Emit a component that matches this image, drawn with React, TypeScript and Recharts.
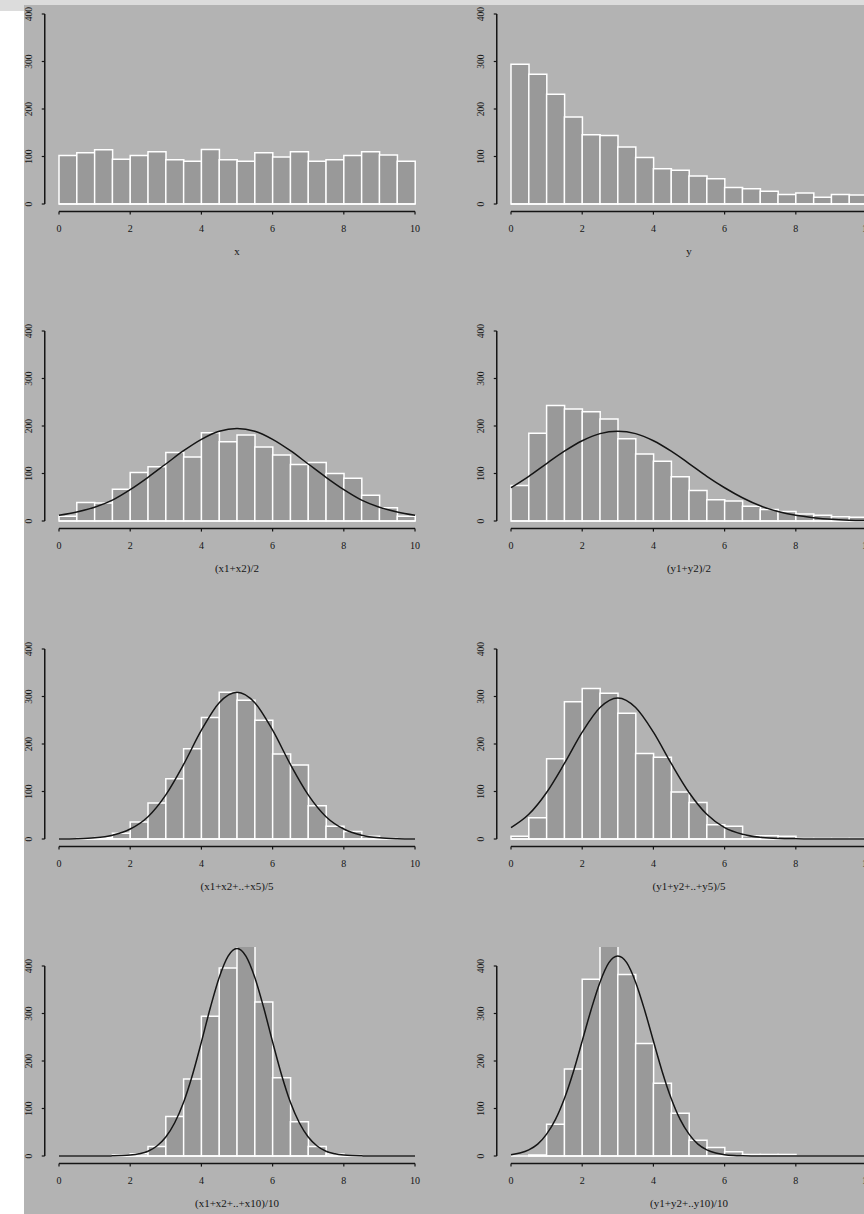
import React from 'react';
import { ComposedChart, Bar, Line, XAxis, YAxis, ReferenceLine } from 'recharts';

// histogram bins (left edges, width 0.5)
const BIN_START = [0, 0.5, 1, 1.5, 2, 2.5, 3, 3.5, 4, 4.5, 5, 5.5, 6, 6.5, 7, 7.5, 8, 8.5, 9, 9.5];

// x positions where the fitted curve was read
const CURVE_X_HALF = [0, 0.5, 1, 1.5, 2, 2.5, 3, 3.5, 4, 4.5, 5, 5.5, 6, 6.5, 7, 7.5, 8, 8.5, 9, 9.5, 10];
const CURVE_X_QUARTER = [
  0, 0.25, 0.5, 0.75, 1, 1.25, 1.5, 1.75, 2, 2.25, 2.5, 2.75, 3, 3.25, 3.5, 3.75, 4, 4.25, 4.5, 4.75,
  5, 5.25, 5.5, 5.75, 6, 6.25, 6.5, 6.75, 7, 7.25, 7.5, 7.75, 8, 8.25, 8.5, 8.75, 9, 9.25, 9.5, 9.75, 10,
];

// counts per bin
const COUNT_X1 = [102, 108, 114, 94, 102, 110, 93, 90, 115, 93, 90, 108, 99, 110, 90, 93, 102, 110, 103, 90];
const COUNT_Y1 = [294, 273, 231, 183, 146, 144, 120, 98, 74, 71, 59, 53, 35, 32, 27, 20, 23, 14, 20, 19];
const COUNT_X2 = [10, 39, 38, 67, 102, 114, 144, 135, 186, 167, 181, 156, 139, 119, 123, 100, 90, 54, 28, 10];
const COUNT_Y2 = [75, 185, 243, 236, 230, 215, 173, 141, 126, 93, 64, 45, 42, 31, 24, 20, 15, 12, 9, 8];
const COUNT_X5 = [0, 1, 3, 12, 36, 76, 127, 190, 256, 309, 292, 250, 179, 156, 70, 27, 16, 6, 1, 0];
const COUNT_Y5 = [6, 45, 169, 289, 317, 307, 265, 180, 172, 99, 77, 30, 27, 7, 7, 6, 1, 1, 1, 1];
const COUNT_X10 = [0, 0, 0, 2, 5, 20, 83, 162, 294, 396, 452, 324, 165, 72, 20, 4, 1, 0, 0, 0];
const COUNT_Y10 = [0, 2, 67, 183, 372, 444, 382, 237, 153, 90, 33, 18, 9, 3, 3, 3, 0, 0, 0, 0];

// fitted curves
const CURVE_X2 = [12, 19, 29, 44, 66, 92, 120, 148, 172, 189, 195, 189, 172, 148, 120, 92, 66, 44, 29, 19, 12];
const CURVE_Y2 = [70, 94, 121, 147, 169, 184, 189, 184, 169, 147, 121, 94, 70, 49, 32, 20, 12, 7, 3.5, 1.7, 0.8];
const CURVE_X5 = [0.2, 0.7, 2.5, 8, 21, 47, 93, 157, 229, 287, 309, 287, 229, 157, 93, 47, 21, 8, 2.5, 0.7, 0.2];
const CURVE_Y5 = [24, 52, 98, 159, 225, 277, 297, 277, 225, 159, 98, 52, 24, 10, 3.5, 1, 0.3, 0.1, 0, 0, 0];
const CURVE_X10 = [
  0, 0, 0, 0, 0, 0, 0.3, 0.8, 2, 4.7, 10, 21, 40, 70, 113, 171, 240, 312, 376, 421,
  437, 421, 376, 312, 240, 171, 113, 70, 40, 21, 10, 4.7, 2, 0.8, 0.3, 0, 0, 0, 0, 0, 0,
];
const CURVE_Y10 = [
  2.8, 6.3, 13, 25, 46, 77, 121, 177, 242, 308, 366, 407, 421, 407, 366, 308, 242, 177, 121, 77,
  46, 25, 13, 6.3, 2.8, 1.1, 0.4, 0.1, 0, 0, 0, 0, 0, 0, 0, 0, 0, 0, 0, 0, 0,
];

const X_TICKS = [0, 2, 4, 6, 8, 10];
const Y_TICKS = [0, 100, 200, 300, 400];

type Panel = { title: string; counts: number[]; curveX?: number[]; curve?: number[] };

const ROWS: Panel[][] = [
  [
    { title: 'x', counts: COUNT_X1 },
    { title: 'y', counts: COUNT_Y1 },
  ],
  [
    { title: '(x1+x2)/2', counts: COUNT_X2, curveX: CURVE_X_HALF, curve: CURVE_X2 },
    { title: '(y1+y2)/2', counts: COUNT_Y2, curveX: CURVE_X_HALF, curve: CURVE_Y2 },
  ],
  [
    { title: '(x1+x2+..+x5)/5', counts: COUNT_X5, curveX: CURVE_X_HALF, curve: CURVE_X5 },
    { title: '(y1+y2+..+y5)/5', counts: COUNT_Y5, curveX: CURVE_X_HALF, curve: CURVE_Y5 },
  ],
  [
    { title: '(x1+x2+..+x10)/10', counts: COUNT_X10, curveX: CURVE_X_QUARTER, curve: CURVE_X10 },
    { title: '(y1+y2+..y10)/10', counts: COUNT_Y10, curveX: CURVE_X_QUARTER, curve: CURVE_Y10 },
  ],
];

// layout (R-like: axes sit 4% outside the data range)
const SERIF = '"Liberation Serif", "DejaVu Serif", serif';
const CHART_W = 452;
const CHART_H = 260;
const COL_LEFT = [24, 476];
const ROW_BASE = [204, 521.3, 838.7, 1156];
const Y_AXIS_W = 20.76;
const PLOT_W = 384.5;
const PLOT_H = 216.6;
const TOP_M = 4;
const X_AXIS_H = 30;
const BIN_PAD = 14.24;
const ZERO_FROM_TOP = 209; // px from plot top to y=0

const BG = '#b3b3b3';
const BAR = '#999999';
const INK = '#151515';

function YTick(props: any) {
  const { x, y, payload } = props;
  return (
    <text
      transform={`translate(${x - 8},${y}) rotate(-90)`}
      textAnchor="middle"
      fontSize={9.5}
      fontFamily={SERIF}
      fill={INK}
    >
      {payload.value}
    </text>
  );
}

function Histogram({ panel }: { panel: Panel }) {
  const binData = BIN_START.map((b, i) => ({ bin: b, count: panel.counts[i] }));
  const curveData = panel.curve ? panel.curveX!.map((x, i) => ({ x, d: panel.curve![i] })) : null;
  return (
    <ComposedChart
      width={CHART_W}
      height={CHART_H}
      data={binData}
      barCategoryGap={0}
      barGap={0}
      margin={{
        top: TOP_M,
        right: CHART_W - Y_AXIS_W - PLOT_W,
        bottom: CHART_H - TOP_M - PLOT_H - X_AXIS_H,
        left: 0,
      }}
    >
      <XAxis
        xAxisId="bin"
        dataKey="bin"
        type="category"
        hide
        height={0}
        padding={{ left: BIN_PAD, right: BIN_PAD }}
      />
      <XAxis
        xAxisId="num"
        dataKey="x"
        type="number"
        domain={[-0.4, 10.4]}
        allowDataOverflow
        ticks={X_TICKS}
        interval={0}
        axisLine={false}
        tickLine={{ stroke: INK, strokeWidth: 1.2 }}
        tickSize={3}
        tickMargin={10}
        height={X_AXIS_H}
        tick={{ fontSize: 10, fill: INK, fontFamily: SERIF }}
      />
      <YAxis
        type="number"
        domain={[-16, 440]}
        allowDataOverflow
        ticks={Y_TICKS}
        interval={0}
        axisLine={false}
        tickLine={{ stroke: INK, strokeWidth: 1.2 }}
        tickSize={3}
        tickMargin={2}
        width={Y_AXIS_W}
        tick={YTick}
      />
      <ReferenceLine
        xAxisId="num"
        segment={[{ x: 0, y: 0 }, { x: 10, y: 0 }]}
        stroke="#ffffff"
        strokeWidth={1.5}
        ifOverflow="visible"
      />
      <Bar xAxisId="bin" dataKey="count" fill={BAR} stroke="#ffffff" strokeWidth={1.5} isAnimationActive={false} />
      {curveData && (
        <Line
          xAxisId="num"
          data={curveData}
          dataKey="d"
          type="monotone"
          dot={false}
          stroke={INK}
          strokeWidth={1.5}
          isAnimationActive={false}
        />
      )}
      <ReferenceLine
        xAxisId="num"
        segment={[{ x: -0.4, y: 0 }, { x: -0.4, y: 400 }]}
        stroke={INK}
        strokeWidth={1.5}
        ifOverflow="visible"
      />
      <ReferenceLine
        xAxisId="num"
        segment={[{ x: 0, y: -16 }, { x: 10, y: -16 }]}
        stroke={INK}
        strokeWidth={1.5}
        ifOverflow="visible"
      />
    </ComposedChart>
  );
}

export default function App() {
  const unit = PLOT_W / 10.8;
  return (
    <div
      style={{
        position: 'absolute',
        left: 0,
        top: 0,
        width: 864,
        height: 1214,
        overflow: 'hidden',
        background: '#ffffff',
      }}
    >
      <div style={{ position: 'absolute', left: 24, top: 5, width: 840, height: 1209, background: BG }} />
      {ROWS.map((row, r) =>
        row.map((panel, c) => {
          const left = COL_LEFT[c];
          const base = ROW_BASE[r];
          const centerX = left + Y_AXIS_W + BIN_PAD + 5 * unit;
          return (
            <React.Fragment key={`${r}-${c}`}>
              <div style={{ position: 'absolute', left, top: base - ZERO_FROM_TOP - TOP_M }}>
                <Histogram panel={panel} />
              </div>
              <div
                style={{
                  position: 'absolute',
                  left: centerX,
                  top: base + 41,
                  transform: 'translateX(-50%)',
                  whiteSpace: 'nowrap',
                  fontFamily: SERIF,
                  fontSize: 11,
                  lineHeight: '12px',
                  color: INK,
                }}
              >
                {panel.title}
              </div>
            </React.Fragment>
          );
        })
      )}
      <div style={{ position: 'absolute', left: 0, top: 0, width: 864, height: 5, background: '#dcdcdc', zIndex: 2 }} />
      <div style={{ position: 'absolute', left: 0, top: 0, width: 24, height: 11, background: '#dcdcdc', zIndex: 2 }} />
    </div>
  );
}
